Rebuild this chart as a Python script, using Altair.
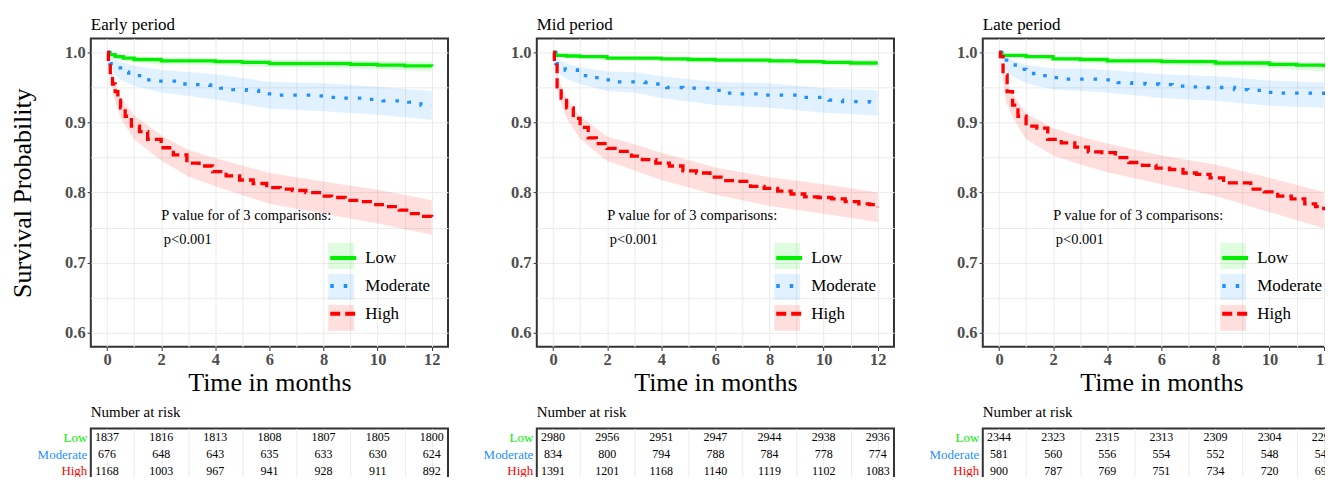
import altair as alt
import pandas as pd

SERIF = "Liberation Serif"
GROUPS = ["Low", "Moderate", "High"]
LINE_COLORS = ["#00ee00", "#1e90ff", "#ff0000"]
DASHES = [[1, 0], [3.5, 10], [10, 5]]
PANEL_TITLES = ["Early period", "Mid period", "Late period"]

# ---------------- Kaplan-Meier estimates ----------------
EARLY_LOW_T = [0, 0.1, 0.3, 0.6, 1, 2, 3, 4, 5, 6, 8, 9, 10, 11, 12]
EARLY_LOW_S = [1.0, 0.997, 0.994, 0.992, 0.990, 0.988, 0.988, 0.987, 0.986, 0.984, 0.984, 0.983, 0.982, 0.981, 0.980]
EARLY_MOD_T = [0, 0.1, 0.3, 0.5, 0.8, 1.3, 1.8, 2.3, 2.75, 3.25, 3.8, 4.2, 4.65, 5.15, 5.6, 6.1, 6.6, 7.1, 7.65, 8.15, 8.6, 9.2, 9.7, 10.2, 10.65, 11.15, 11.6, 12]
EARLY_MOD_S = [1.0, 0.984, 0.978, 0.972, 0.967, 0.961, 0.959, 0.959, 0.955, 0.954, 0.953, 0.949, 0.947, 0.946, 0.941, 0.939, 0.939, 0.939, 0.938, 0.936, 0.935, 0.935, 0.933, 0.931, 0.931, 0.929, 0.925, 0.925]
EARLY_HIGH_T = [0, 0.05, 0.12, 0.2, 0.3, 0.4, 0.5, 0.67, 0.9, 1.2, 1.5, 2.0, 2.45, 2.95, 3.4, 3.9, 4.4, 4.9, 5.4, 5.9, 6.4, 6.85, 7.35, 7.85, 8.3, 8.8, 9.3, 9.8, 10.3, 10.8, 11.25, 11.6, 12]
EARLY_HIGH_S = [1.0, 0.985, 0.968, 0.955, 0.944, 0.932, 0.921, 0.909, 0.895, 0.887, 0.876, 0.864, 0.854, 0.842, 0.838, 0.830, 0.824, 0.818, 0.813, 0.807, 0.805, 0.803, 0.800, 0.795, 0.793, 0.789, 0.787, 0.783, 0.780, 0.775, 0.770, 0.766, 0.765]

MID_LOW_T = [0, 0.1, 0.5, 1, 2, 3, 4, 5, 6, 7, 8, 9, 10, 11, 12]
MID_LOW_S = [1.0, 0.996, 0.995, 0.994, 0.992, 0.992, 0.991, 0.990, 0.989, 0.989, 0.988, 0.987, 0.986, 0.985, 0.985]
MID_MOD_T = [0, 0.1, 0.45, 0.9, 1.4, 1.8, 2.3, 2.8, 3.4, 3.8, 4.2, 4.8, 5.3, 5.8, 6.2, 6.7, 7.2, 7.7, 8.2, 8.7, 9.2, 9.7, 10.2, 10.7, 11.2, 11.7, 12]
MID_MOD_S = [1.0, 0.984, 0.975, 0.967, 0.964, 0.961, 0.958, 0.958, 0.957, 0.955, 0.950, 0.949, 0.949, 0.946, 0.942, 0.941, 0.941, 0.939, 0.939, 0.939, 0.936, 0.936, 0.932, 0.930, 0.930, 0.929, 0.928]
MID_HIGH_T = [0, 0.05, 0.15, 0.3, 0.5, 0.75, 1.0, 1.3, 1.6, 2.0, 2.4, 2.9, 3.3, 3.8, 4.3, 4.8, 5.3, 5.8, 6.3, 6.8, 7.3, 7.8, 8.3, 8.8, 9.3, 9.8, 10.3, 10.8, 11.3, 11.7, 12]
MID_HIGH_S = [1.0, 0.982, 0.951, 0.935, 0.921, 0.906, 0.893, 0.878, 0.870, 0.863, 0.859, 0.852, 0.847, 0.842, 0.838, 0.831, 0.828, 0.822, 0.817, 0.816, 0.809, 0.806, 0.802, 0.798, 0.794, 0.793, 0.791, 0.787, 0.784, 0.783, 0.779]

LATE_LOW_T = [0, 0.1, 1, 2, 3, 4, 6, 8, 10, 11, 12]
LATE_LOW_S = [1.0, 0.996, 0.994, 0.991, 0.990, 0.988, 0.987, 0.985, 0.983, 0.982, 0.979]
LATE_MOD_T = [0, 0.1, 0.6, 1, 1.4, 1.9, 2.4, 2.9, 3.4, 3.9, 4.4, 4.9, 5.4, 5.9, 6.4, 6.9, 7.4, 7.9, 8.4, 8.7, 9.2, 9.7, 10.2, 10.7, 11.2, 12]
LATE_MOD_S = [1.0, 0.989, 0.976, 0.970, 0.967, 0.964, 0.962, 0.962, 0.962, 0.961, 0.957, 0.956, 0.955, 0.954, 0.952, 0.951, 0.950, 0.950, 0.950, 0.947, 0.946, 0.943, 0.942, 0.942, 0.942, 0.939]
LATE_HIGH_T = [0, 0.05, 0.15, 0.3, 0.5, 0.7, 1.0, 1.4, 1.8, 2.3, 2.8, 3.3, 3.8, 4.3, 4.8, 5.3, 5.8, 6.3, 6.8, 7.3, 7.8, 8.3, 8.8, 9.3, 9.8, 10.3, 10.8, 11.3, 11.7, 12]
LATE_HIGH_S = [1.0, 0.994, 0.968, 0.944, 0.925, 0.909, 0.895, 0.892, 0.876, 0.871, 0.865, 0.858, 0.857, 0.850, 0.843, 0.839, 0.835, 0.833, 0.828, 0.826, 0.821, 0.814, 0.814, 0.805, 0.801, 0.795, 0.791, 0.784, 0.780, 0.775]

# ---------------- confidence bands ----------------
BAND_T = [0, 0.25, 0.5, 1, 2, 3, 4, 6, 8, 10, 12]
EARLY_LOW_LO = [1.0, 0.992, 0.989, 0.986, 0.983, 0.983, 0.982, 0.979, 0.978, 0.976, 0.973]
EARLY_LOW_HI = [1.0, 0.998, 0.997, 0.995, 0.993, 0.993, 0.992, 0.990, 0.990, 0.988, 0.987]
EARLY_MOD_LO = [1.0, 0.970, 0.961, 0.952, 0.943, 0.938, 0.933, 0.920, 0.916, 0.911, 0.904]
EARLY_MOD_HI = [1.0, 0.991, 0.987, 0.981, 0.975, 0.972, 0.969, 0.958, 0.956, 0.951, 0.945]
EARLY_HIGH_LO = [1.0, 0.937, 0.906, 0.876, 0.846, 0.823, 0.809, 0.784, 0.770, 0.756, 0.740]
EARLY_HIGH_HI = [1.0, 0.963, 0.936, 0.910, 0.882, 0.861, 0.849, 0.828, 0.816, 0.804, 0.789]
MID_LOW_LO = [1.0, 0.994, 0.993, 0.991, 0.989, 0.988, 0.987, 0.985, 0.984, 0.982, 0.980]
MID_LOW_HI = [1.0, 0.998, 0.998, 0.997, 0.995, 0.995, 0.994, 0.993, 0.992, 0.990, 0.989]
MID_MOD_LO = [1.0, 0.970, 0.962, 0.955, 0.945, 0.943, 0.935, 0.925, 0.921, 0.914, 0.910]
MID_MOD_HI = [1.0, 0.989, 0.984, 0.979, 0.973, 0.972, 0.966, 0.958, 0.956, 0.949, 0.946]
MID_HIGH_LO = [1.0, 0.932, 0.906, 0.877, 0.845, 0.832, 0.818, 0.797, 0.781, 0.770, 0.758]
MID_HIGH_HI = [1.0, 0.957, 0.935, 0.909, 0.880, 0.869, 0.857, 0.836, 0.822, 0.812, 0.800]
LATE_LOW_LO = [1.0, 0.994, 0.992, 0.991, 0.988, 0.986, 0.984, 0.983, 0.980, 0.978, 0.973]
LATE_LOW_HI = [1.0, 0.998, 0.998, 0.997, 0.995, 0.994, 0.993, 0.992, 0.990, 0.988, 0.985]
LATE_MOD_LO = [1.0, 0.975, 0.966, 0.956, 0.947, 0.945, 0.943, 0.935, 0.931, 0.924, 0.921]
LATE_MOD_HI = [1.0, 0.994, 0.989, 0.982, 0.977, 0.977, 0.975, 0.969, 0.966, 0.960, 0.957]
LATE_HIGH_LO = [1.0, 0.930, 0.908, 0.876, 0.853, 0.840, 0.829, 0.812, 0.795, 0.772, 0.749]
LATE_HIGH_HI = [1.0, 0.960, 0.942, 0.913, 0.892, 0.880, 0.870, 0.853, 0.840, 0.821, 0.801]

# ---------------- number at risk ----------------
RISK_T = [0, 2, 4, 6, 8, 10, 12]
EARLY_RISK_LOW = [1837, 1816, 1813, 1808, 1807, 1805, 1800]
EARLY_RISK_MOD = [676, 648, 643, 635, 633, 630, 624]
EARLY_RISK_HIGH = [1168, 1003, 967, 941, 928, 911, 892]
MID_RISK_LOW = [2980, 2956, 2951, 2947, 2944, 2938, 2936]
MID_RISK_MOD = [834, 800, 794, 788, 784, 778, 774]
MID_RISK_HIGH = [1391, 1201, 1168, 1140, 1119, 1102, 1083]
LATE_RISK_LOW = [2344, 2323, 2315, 2313, 2309, 2304, 2292]
LATE_RISK_MOD = [581, 560, 556, 554, 552, 548, 546]
LATE_RISK_HIGH = [900, 787, 769, 751, 734, 720, 698]

# ---------------- annotation ----------------
ANNOT_X = [2.0, 2.1]
ANNOT_Y = [0.766, 0.732]
ANNOT_TEXT = ["P value for of 3 comparisons:", "p<0.001"]

CURVES = {
    "Early period": {"Low": (EARLY_LOW_T, EARLY_LOW_S), "Moderate": (EARLY_MOD_T, EARLY_MOD_S), "High": (EARLY_HIGH_T, EARLY_HIGH_S)},
    "Mid period": {"Low": (MID_LOW_T, MID_LOW_S), "Moderate": (MID_MOD_T, MID_MOD_S), "High": (MID_HIGH_T, MID_HIGH_S)},
    "Late period": {"Low": (LATE_LOW_T, LATE_LOW_S), "Moderate": (LATE_MOD_T, LATE_MOD_S), "High": (LATE_HIGH_T, LATE_HIGH_S)},
}
BANDS = {
    "Early period": {"Low": (EARLY_LOW_LO, EARLY_LOW_HI), "Moderate": (EARLY_MOD_LO, EARLY_MOD_HI), "High": (EARLY_HIGH_LO, EARLY_HIGH_HI)},
    "Mid period": {"Low": (MID_LOW_LO, MID_LOW_HI), "Moderate": (MID_MOD_LO, MID_MOD_HI), "High": (MID_HIGH_LO, MID_HIGH_HI)},
    "Late period": {"Low": (LATE_LOW_LO, LATE_LOW_HI), "Moderate": (LATE_MOD_LO, LATE_MOD_HI), "High": (LATE_HIGH_LO, LATE_HIGH_HI)},
}
RISKS = {
    "Early period": {"Low": EARLY_RISK_LOW, "Moderate": EARLY_RISK_MOD, "High": EARLY_RISK_HIGH},
    "Mid period": {"Low": MID_RISK_LOW, "Moderate": MID_RISK_MOD, "High": MID_RISK_HIGH},
    "Late period": {"Low": LATE_RISK_LOW, "Moderate": LATE_RISK_MOD, "High": LATE_RISK_HIGH},
}

PLOT_W, PLOT_H, TABLE_H = 358, 309, 51
AXIS_GREY = "#4d4d4d"
GRID = "#ebebeb"


def x_enc(field):
    return alt.X(
        f"{field}:Q",
        scale=alt.Scale(domain=[-0.6, 12.6], nice=False, zero=False),
        axis=alt.Axis(
            values=list(range(13)),
            labelExpr="datum.value % 2 == 0 ? datum.label : ''",
            title="Time in months",
            titleFont=SERIF, titleFontSize=26, titleFontWeight="normal", titleColor="black", titlePadding=2,
            labelFont=SERIF, labelFontSize=16.5, labelFontWeight="bold", labelColor=AXIS_GREY, labelPadding=1,
            tickSize=3.7, tickColor="#333333",
            tickOpacity={"condition": {"test": "datum.value % 2 != 0", "value": 0}, "value": 1},
            grid=True, gridColor=GRID, domain=False,
        ),
    )


def y_enc(field, title):
    return alt.Y(
        f"{field}:Q",
        scale=alt.Scale(domain=[0.58, 1.02], nice=False, zero=False),
        axis=alt.Axis(
            values=[0.6, 0.65, 0.7, 0.75, 0.8, 0.85, 0.9, 0.95, 1.0],
            labelExpr="round(datum.value * 100) % 10 == 0 ? format(datum.value, '.1f') : ''",
            labelFont=SERIF, labelFontSize=16.5, labelFontWeight="bold", labelColor=AXIS_GREY, labelPadding=2,
            tickSize=3.7, tickColor="#333333",
            tickOpacity={"condition": {"test": "round(datum.value * 100) % 10 != 0", "value": 0}, "value": 1},
            grid=True, gridColor=GRID, domain=False,
            title=title if title else "",
            titleFont=SERIF, titleFontSize=26, titleFontWeight="normal", titleColor="black", titlePadding=29,
        ),
    )


LEGEND_COMMON = dict(
    orient="none", legendX=238, legendY=205, title=None, symbolSize=676,
    labelFont=SERIF, labelFontSize=17, labelColor="black", labelOffset=7,
    rowPadding=5, padding=0, direction="vertical",
)


def make_column(i):
    name = PANEL_TITLES[i]
    line_rows, band_rows, risk_rows = [], [], []
    for g in GROUPS:
        ts, ss = CURVES[name][g]
        for t, s in zip(ts, ss):
            line_rows.append({"group": g, "t": t, "s": s})
        lo, hi = BANDS[name][g]
        for t, a, b in zip(BAND_T, lo, hi):
            band_rows.append({"band": g, "t": t, "lo": a, "hi": b})
        for t, n in zip(RISK_T, RISKS[name][g]):
            risk_rows.append({"group": g, "t": t, "n": str(n)})
    ldf = pd.DataFrame(line_rows)
    bdf = pd.DataFrame(band_rows)
    rdf = pd.DataFrame(risk_rows)
    adf = pd.DataFrame({"x": ANNOT_X, "y": ANNOT_Y, "text": ANNOT_TEXT})
    ytitle = "Survival Probability" if i == 0 else None

    area = alt.Chart(bdf).mark_area(interpolate="linear", fillOpacity=0.13).encode(
        x=x_enc("t"),
        y=y_enc("lo", ytitle),
        y2=alt.Y2("hi:Q"),
        fill=alt.Fill("band:N", sort=GROUPS, scale=alt.Scale(range=LINE_COLORS),
                      legend=alt.Legend(symbolType="square", symbolOpacity=0.13, symbolStrokeWidth=0,
                                        labelExpr="''", **LEGEND_COMMON)),
    )
    lines = alt.Chart(ldf).mark_line(interpolate="step-after", strokeWidth=3.3, strokeCap="butt").encode(
        x=x_enc("t"),
        y=y_enc("s", ytitle),
        stroke=alt.Stroke("group:N", scale=alt.Scale(domain=GROUPS, range=LINE_COLORS),
                          legend=alt.Legend(symbolType="stroke", symbolStrokeWidth=4, **LEGEND_COMMON)),
        strokeDash=alt.StrokeDash("group:N", scale=alt.Scale(domain=GROUPS, range=DASHES),
                                  legend=alt.Legend(symbolType="stroke", symbolStrokeWidth=4, **LEGEND_COMMON)),
    )
    notes = alt.Chart(adf).mark_text(align="left", baseline="middle", font=SERIF, fontSize=14.5, color="black").encode(
        x=x_enc("x"), y=y_enc("y", ytitle), text="text:N"
    )
    plot = alt.layer(area, lines, notes).properties(
        width=PLOT_W, height=PLOT_H,
        title=alt.TitleParams(name, anchor="start", frame="group", font=SERIF, fontSize=17,
                              fontWeight="normal", color="black", offset=4),
    )

    cond = {"condition": [{"test": "datum.value === 'Low'", "value": LINE_COLORS[0]},
                          {"test": "datum.value === 'Moderate'", "value": LINE_COLORS[1]}],
            "value": LINE_COLORS[2]}
    table = alt.Chart(rdf).mark_text(font=SERIF, fontSize=12, color="black", baseline="middle").encode(
        x=alt.X("t:Q", scale=alt.Scale(domain=[-0.6, 12.6], nice=False, zero=False),
                axis=alt.Axis(values=list(range(13)), labels=False, ticks=False, domain=False,
                              grid=True, gridColor=GRID, title=None)),
        y=alt.Y("group:N", sort=GROUPS, scale=alt.Scale(domain=GROUPS),
                axis=alt.Axis(title=None, ticks=False, domain=False, grid=False,
                              labelFont=SERIF, labelFontSize=13, labelPadding=4, labelColor=cond)),
        text="n:N",
    ).properties(
        width=PLOT_W, height=TABLE_H,
        title=alt.TitleParams("Number at risk", anchor="start", frame="group", font=SERIF, fontSize=15,
                              fontWeight="normal", color="black", offset=9),
    )
    return alt.vconcat(plot, table, spacing=6).resolve_scale(
        fill="independent", stroke="independent", strokeDash="independent")


chart = alt.hconcat(*[make_column(i) for i in range(3)], spacing=33).resolve_scale(
    fill="independent", stroke="independent", strokeDash="independent"
).properties(
    padding={"left": 0, "top": 7, "right": -16, "bottom": -4}
).configure_view(stroke="#333333", strokeWidth=2)

chart.save("out.html", embed_options={"renderer": "svg", "actions": False})
